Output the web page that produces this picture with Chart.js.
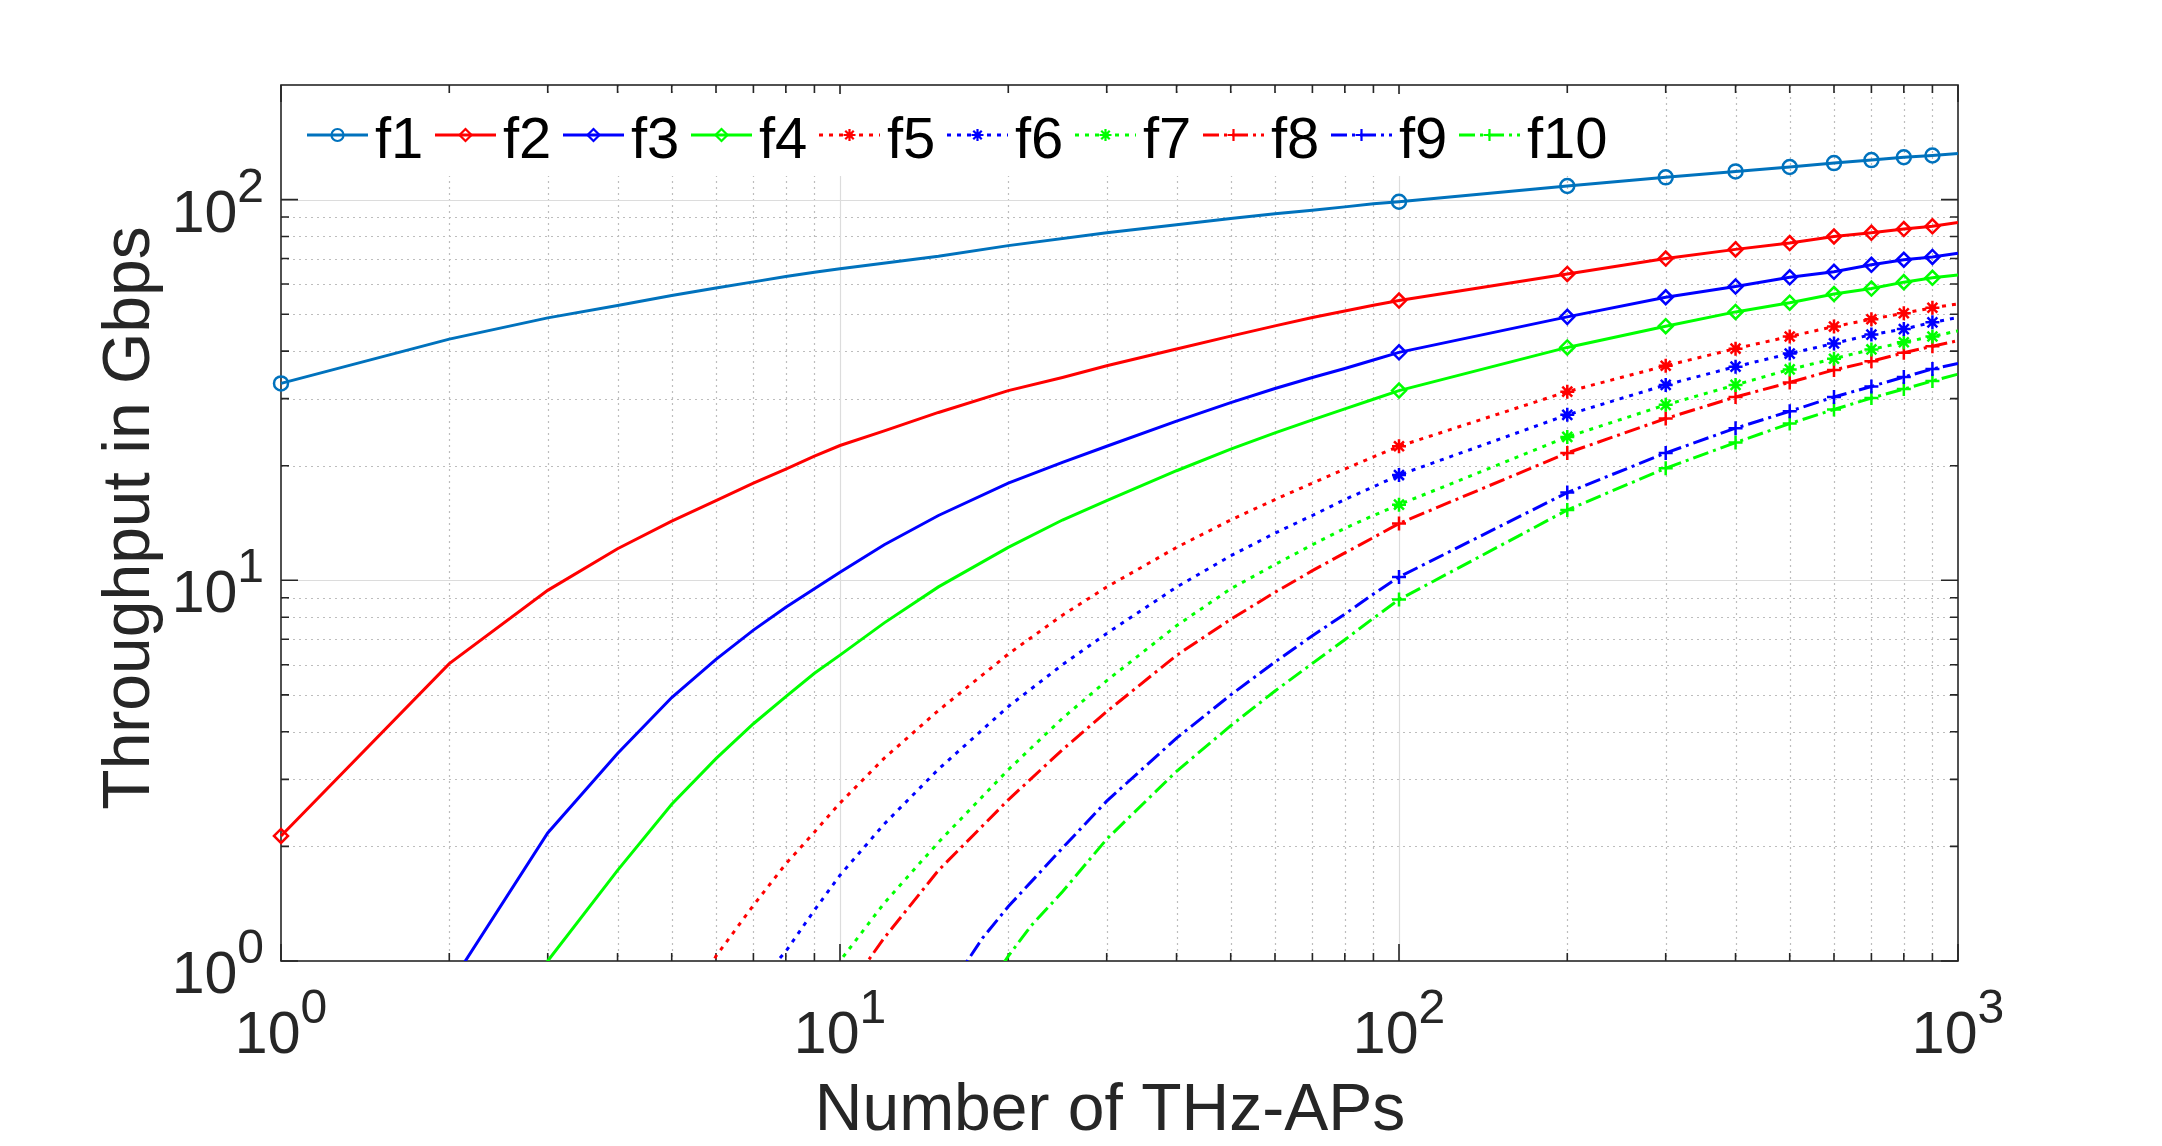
<!DOCTYPE html>
<html>
<head>
<meta charset="utf-8">
<script src="https://cdn.jsdelivr.net/npm/chart.js@4.4.1/dist/chart.umd.min.js"></script>
<style>
html,body{margin:0;padding:0;background:#fff;}
#wrap{width:2162px;height:1146px;position:relative;}
canvas{display:block;}
</style>
</head>
<body>
<div id="wrap"><canvas id="c" width="2162" height="1146"></canvas></div>
<script>
// ---------------- data ----------------
const xValues = [1,2,3,4,5,6,7,8,9,10,12,15,18,20,22,25,30,40,50,60,70,80,90,100,200,300,400,500,600,700,800,900,1000];
const f1  = [32.9,43.0,48.9,52.7,56.0,58.6,60.8,62.8,64.4,65.8,null,71.0,null,75.7,null,null,81.8,85.9,89.2,91.8,93.8,95.7,97.5,98.7,108.6,114.4,118.6,121.8,124.7,127.0,129.2,130.6,132.2];
const f2  = [2.13,6.04,9.41,12.1,14.3,16.2,18.0,19.6,21.2,22.6,24.7,27.6,null,31.5,null,34.1,36.6,40.5,43.8,46.6,49.0,51.0,52.8,54.3,63.8,70.0,74.0,76.9,80.0,81.8,83.7,85.1,87.1];
const f3  = [null,0.86,2.17,3.51,4.92,6.2,7.4,8.5,9.5,10.5,12.4,14.8,null,18.0,null,20.4,22.5,26.2,29.3,31.9,34.1,36.0,37.9,39.7,49.2,55.4,59.1,62.5,64.6,67.4,69.5,70.7,72.3];
const f4  = [null,0.43,1.0,1.73,2.58,3.40,4.20,4.95,5.7,6.36,7.73,9.61,null,12.2,null,14.4,16.2,19.4,22.1,24.4,26.4,28.2,29.9,31.5,40.9,46.5,50.7,53.6,56.5,58.4,60.7,62.3,63.4];
const f5  = [null,null,null,null,0.63,1.03,1.40,1.80,2.18,2.60,3.41,4.55,null,6.4,null,8.1,9.6,12.2,14.4,16.3,18.0,19.6,21.1,22.5,31.3,36.6,40.6,43.7,46.4,48.5,50.3,52.0,53.2];
const f6  = [null,null,null,null,null,null,0.85,1.06,1.36,1.68,2.29,3.19,null,4.66,null,6.0,7.25,9.6,11.6,13.3,14.8,16.3,17.6,18.9,27.2,32.6,36.4,39.4,41.9,44.2,45.7,47.6,49.0];
const f7  = [null,null,null,null,null,null,null,null,0.80,1.0,1.42,2.05,null,3.18,null,4.34,5.45,7.6,9.5,11.0,12.4,13.7,14.8,15.8,23.8,28.9,32.6,35.8,38.2,40.4,42.2,43.7,45.2];
const f8  = [null,null,null,null,null,null,null,null,null,0.79,1.15,1.73,null,2.65,null,3.59,4.52,6.35,7.9,9.3,10.6,11.8,12.95,14.1,21.6,26.6,30.3,33.1,35.7,37.6,39.6,41.2,42.6];
const f9  = [null,null,null,null,null,null,null,null,null,null,null,0.77,1.15,1.39,null,1.98,2.63,3.85,5.0,6.1,7.15,8.15,9.2,10.2,17.0,21.6,25.1,27.8,30.3,32.3,34.2,35.9,37.1];
const f10 = [null,null,null,null,null,null,null,null,null,null,null,0.54,null,1.03,1.24,1.52,2.09,3.15,4.15,5.12,6.05,6.98,7.95,8.9,15.3,19.7,23.0,25.8,28.1,30.1,31.8,33.4,34.8];
const seriesNames = ['f1','f2','f3','f4','f5','f6','f7','f8','f9','f10'];
const seriesValues = [f1,f2,f3,f4,f5,f6,f7,f8,f9,f10];
const markerX = [1,100,200,300,400,500,600,700,800,900];
const xTickExponents = ['0','1','2','3'];
const yTickExponents = ['0','1','2'];
const xAxisTitle = 'Number of THz-APs';
const yAxisTitle = 'Throughput in Gbps';

// ---------------- styles ----------------
const DOT = [4,6], DASHDOT = [16,5,3,5];
const seriesStyles = [
  {color:'#0072BD', dash:[],      point:'circle'},
  {color:'#FF0000', dash:[],      point:'rectRot'},
  {color:'#0000FF', dash:[],      point:'rectRot'},
  {color:'#00FF00', dash:[],      point:'rectRot'},
  {color:'#FF0000', dash:DOT,     point:'star'},
  {color:'#0000FF', dash:DOT,     point:'star'},
  {color:'#00FF00', dash:DOT,     point:'star'},
  {color:'#FF0000', dash:DASHDOT, point:'cross'},
  {color:'#0000FF', dash:DASHDOT, point:'cross'},
  {color:'#00FF00', dash:DASHDOT, point:'cross'}
];
const FONT = '"Liberation Sans", Arial, Helvetica, sans-serif';
const AXIS_COLOR = '#262626';
const markerSet = new Set(markerX);

const datasets = seriesValues.map((vals, i) => {
  const st = seriesStyles[i];
  const pts = [];
  xValues.forEach((x, j) => { if (vals[j] !== null && vals[j] !== undefined) pts.push({x: x, y: vals[j]}); });
  return {
    label: seriesNames[i],
    data: pts,
    borderColor: st.color,
    backgroundColor: 'rgba(0,0,0,0)',
    borderWidth: 3,
    borderDash: st.dash,
    borderCapStyle: 'butt',
    tension: 0,
    fill: false,
    pointStyle: st.point,
    pointRadius: (ctx) => (ctx.raw && markerSet.has(ctx.raw.x)) ? 7 : 0,
    pointHoverRadius: 0,
    pointBorderColor: st.color,
    pointBackgroundColor: 'rgba(0,0,0,0)',
    pointBorderWidth: 2.5,
    clip: {left: 14, top: 0, right: 0, bottom: 0}
  };
});

function minorTicks(decades, max) {
  const out = [];
  decades.forEach(d => { for (let k = 2; k <= 9; k++) { const v = d * k; if (v < max) out.push(v); } });
  return out;
}

function drawPow(ctx, exp, x, baseY, expY, align) {
  ctx.font = '59px ' + FONT;
  const wb = ctx.measureText('10').width;
  ctx.font = '48px ' + FONT;
  const we = ctx.measureText(exp).width;
  let start;
  if (align === 'right') start = x - wb - we; else start = x - (wb + we) / 2;
  ctx.textAlign = 'left';
  ctx.textBaseline = 'alphabetic';
  ctx.font = '59px ' + FONT;
  ctx.fillText('10', start, baseY);
  ctx.font = '48px ' + FONT;
  ctx.fillText(exp, start + wb, expY);
}

const matlabAxes = {
  id: 'matlabAxes',
  beforeDatasetsDraw(chart) {
    const {ctx, chartArea: a, scales: {x, y}} = chart;
    const xMinor = minorTicks([1,10,100], x.max);
    const yMinor = minorTicks([1,10,100], y.max);
    const xMajor = xTickExponents.map(e => Math.pow(10, +e));
    const yMajor = yTickExponents.map(e => Math.pow(10, +e));
    ctx.save();
    // minor grid (dotted)
    ctx.lineWidth = 1.2;
    ctx.strokeStyle = '#bdbdbd';
    ctx.setLineDash([2,4]);
    ctx.beginPath();
    xMinor.forEach(v => { const p = Math.round(x.getPixelForValue(v)) + 0.5; ctx.moveTo(p, a.top); ctx.lineTo(p, a.bottom); });
    yMinor.forEach(v => { const p = Math.round(y.getPixelForValue(v)) + 0.5; ctx.moveTo(a.left, p); ctx.lineTo(a.right, p); });
    ctx.stroke();
    // major grid (solid light)
    ctx.setLineDash([]);
    ctx.strokeStyle = '#dcdcdc';
    ctx.lineWidth = 1.2;
    ctx.beginPath();
    xMajor.forEach(v => { if (v > x.min && v < x.max) { const p = Math.round(x.getPixelForValue(v)) + 0.5; ctx.moveTo(p, a.top); ctx.lineTo(p, a.bottom); } });
    yMajor.forEach(v => { if (v > y.min && v < y.max) { const p = Math.round(y.getPixelForValue(v)) + 0.5; ctx.moveTo(a.left, p); ctx.lineTo(a.right, p); } });
    ctx.stroke();
    // box
    ctx.strokeStyle = AXIS_COLOR;
    ctx.lineWidth = 1.6;
    ctx.strokeRect(a.left, a.top, a.right - a.left, a.bottom - a.top);
    // ticks
    ctx.beginPath();
    const tickX = (v, len) => { const p = x.getPixelForValue(v); ctx.moveTo(p, a.bottom); ctx.lineTo(p, a.bottom - len); ctx.moveTo(p, a.top); ctx.lineTo(p, a.top + len); };
    const tickY = (v, len) => { const p = y.getPixelForValue(v); ctx.moveTo(a.left, p); ctx.lineTo(a.left + len, p); ctx.moveTo(a.right, p); ctx.lineTo(a.right - len, p); };
    xMinor.forEach(v => tickX(v, 8));
    xMajor.forEach(v => tickX(v, 17));
    yMinor.forEach(v => tickY(v, 8));
    yMajor.forEach(v => tickY(v, 17));
    ctx.stroke();
    ctx.restore();
  },
  afterDatasetsDraw(chart) {
    const {ctx, chartArea: a, scales: {x, y}} = chart;
    ctx.save();
    // legend background
    ctx.fillStyle = '#ffffff';
    ctx.fillRect(a.left + 3, a.top + 9, 1640 - a.left, 176 - a.top - 9);
    // legend items
    chart.data.datasets.forEach((ds, i) => {
      const x0 = 307 + 128 * i;
      const yc = 135;
      ctx.strokeStyle = ds.borderColor;
      ctx.lineWidth = 3;
      ctx.setLineDash(ds.borderDash || []);
      ctx.lineCap = 'butt';
      ctx.beginPath();
      ctx.moveTo(x0, yc);
      ctx.lineTo(x0 + 61, yc);
      ctx.stroke();
      ctx.setLineDash([]);
      ctx.lineWidth = 2.2;
      ctx.fillStyle = 'rgba(0,0,0,0)';
      if (Chart.helpers && Chart.helpers.drawPoint) {
        Chart.helpers.drawPoint(ctx, {pointStyle: ds.pointStyle, radius: 6, borderWidth: 2.2, rotation: 0}, x0 + 30.5, yc);
      }
      ctx.fillStyle = '#000000';
      ctx.font = '58px ' + FONT;
      ctx.textAlign = 'left';
      ctx.textBaseline = 'alphabetic';
      ctx.fillText(ds.label, x0 + 68, 158);
    });
    // tick labels
    ctx.fillStyle = AXIS_COLOR;
    yTickExponents.forEach(e => {
      const p = y.getPixelForValue(Math.pow(10, +e));
      drawPow(ctx, e, 264, p + 32, p + 2, 'right');
    });
    xTickExponents.forEach(e => {
      const p = x.getPixelForValue(Math.pow(10, +e));
      drawPow(ctx, e, p, a.bottom + 92, a.bottom + 62, 'center');
    });
    // axis titles
    ctx.font = '66px ' + FONT;
    ctx.textAlign = 'center';
    ctx.textBaseline = 'alphabetic';
    ctx.fillText(xAxisTitle, 1110, 1130);
    ctx.save();
    ctx.translate(149, 518);
    ctx.rotate(-Math.PI / 2);
    ctx.fillText(yAxisTitle, 0, 0);
    ctx.restore();
    ctx.restore();
  }
};

new Chart(document.getElementById('c'), {
  type: 'line',
  data: {datasets: datasets},
  options: {
    responsive: false,
    devicePixelRatio: 1,
    animation: false,
    events: [],
    layout: {padding: {top: 85, right: 204, left: 0, bottom: 0}},
    plugins: {legend: {display: false}, tooltip: {enabled: false}, title: {display: false}},
    scales: {
      x: {
        type: 'logarithmic', min: 1, max: 1000,
        ticks: {display: false}, grid: {display: false}, border: {display: false},
        afterFit: (s) => { s.height = 185; }
      },
      y: {
        type: 'logarithmic', min: 1, max: 200,
        ticks: {display: false}, grid: {display: false}, border: {display: false},
        afterFit: (s) => { s.width = 281; }
      }
    }
  },
  plugins: [matlabAxes]
});
</script>
</body>
</html>
